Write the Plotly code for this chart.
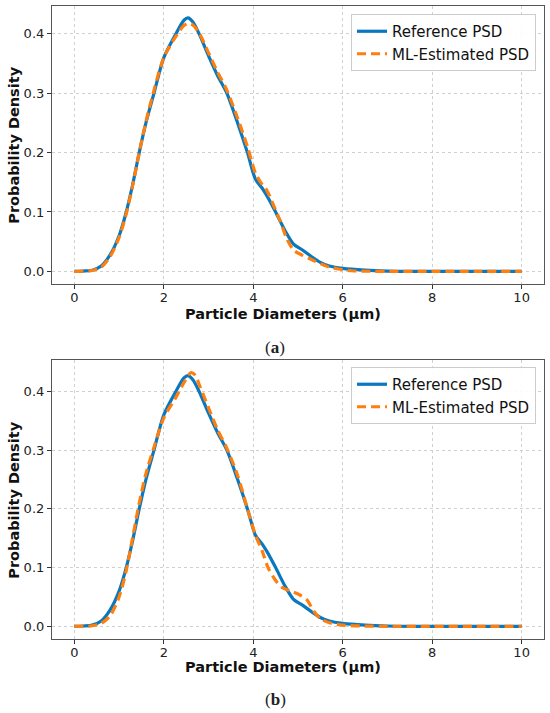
import plotly.graph_objects as go
from plotly.subplots import make_subplots

# ---- data ----
x_ref = [0, 0.2, 0.4, 0.6, 0.8, 1.0, 1.16, 1.3, 1.45, 1.6, 1.78, 2.0, 2.27, 2.45, 2.54, 2.65,
         2.79, 3.0, 3.2, 3.41, 3.65, 3.87, 4.05, 4.2, 4.3, 4.5, 4.7, 4.9, 5.1, 5.3,
         5.5, 5.7, 6.0, 6.5, 7.0, 7.5, 8.0, 9.0, 10.0]
ref_psd = [0, 0.0005, 0.002, 0.009, 0.028, 0.06, 0.1, 0.145, 0.2, 0.25, 0.3, 0.36, 0.4, 0.423,
           0.427, 0.42, 0.4, 0.363, 0.33, 0.3, 0.25, 0.2, 0.155, 0.14, 0.128, 0.1, 0.07,
           0.046, 0.036, 0.025, 0.015, 0.009, 0.005, 0.002, 0.0005, 0, 0, 0, 0]

x_ml_a = [0, 0.2, 0.4, 0.6, 0.8, 1.0, 1.16, 1.3, 1.45, 1.6, 1.78, 2.0, 2.27, 2.45, 2.55, 2.65,
          2.8, 3.0, 3.2, 3.41, 3.65, 3.87, 4.05, 4.2, 4.3, 4.45, 4.6, 4.75, 4.9, 5.1, 5.3,
          5.5, 5.7, 5.9, 6.2, 6.6, 7.0, 8.0, 9.0, 10.0]
ml_psd_a = [0, 0.0003, 0.0015, 0.007, 0.025, 0.057, 0.097, 0.143, 0.2, 0.252, 0.305, 0.36,
            0.396, 0.414, 0.418, 0.415, 0.4, 0.368, 0.336, 0.305, 0.258, 0.21, 0.165, 0.146,
            0.137, 0.112, 0.085, 0.055, 0.036, 0.027, 0.02, 0.013, 0.007, 0.004, 0.001,
            0.0002, 0, 0, 0, 0]

x_ml_b = [0, 0.2, 0.4, 0.6, 0.8, 1.0, 1.16, 1.3, 1.45, 1.6, 1.78, 2.0, 2.27, 2.45, 2.6, 2.7,
          2.8, 3.0, 3.2, 3.41, 3.65, 3.87, 4.05, 4.2, 4.33, 4.5, 4.65, 4.8, 5.0, 5.2, 5.35,
          5.5, 5.7, 6.0, 6.5, 7.0, 8.0, 9.0, 10.0]
ml_psd_b = [0, 0.0002, 0.001, 0.005, 0.018, 0.05, 0.095, 0.15, 0.21, 0.26, 0.305, 0.355,
            0.39, 0.415, 0.432, 0.428, 0.41, 0.372, 0.335, 0.303, 0.257, 0.2, 0.155, 0.128,
            0.1, 0.078, 0.066, 0.061, 0.055, 0.045, 0.026, 0.013, 0.006, 0.002, 0.0004, 0,
            0, 0, 0]

x_ticks = [0, 2, 4, 6, 8, 10]
y_ticks = [0.0, 0.1, 0.2, 0.3, 0.4]

BLUE = "#0a78be"
ORANGE = "#ff7f0e"
W, H = 550, 713


def px(p):
    return p / W


def py(p):
    return 1 - p / H


fig = make_subplots(rows=2, cols=1)

panels = [
    (1, x_ml_a, ml_psd_a, "legend"),
    (2, x_ml_b, ml_psd_b, "legend2"),
]
for row, xm, ym, leg in panels:
    fig.add_trace(go.Scatter(x=x_ref, y=ref_psd, mode="lines", name="Reference PSD",
                             line=dict(color=BLUE, width=3.2, shape="spline", smoothing=0.8),
                             legend=leg), row=row, col=1)
    fig.add_trace(go.Scatter(x=xm, y=ym, mode="lines", name="ML-Estimated PSD",
                             line=dict(color=ORANGE, width=3.2, dash="9px,5px",
                                       shape="spline", smoothing=0.8),
                             legend=leg), row=row, col=1)

axis_common = dict(showline=True, linecolor="#555555", linewidth=1.2, mirror=True,
                   showgrid=True, gridcolor="#d0d0d0", griddash="dot", gridwidth=1,
                   ticks="outside", ticklen=4, tickcolor="#333333", zeroline=False,
                   tickfont=dict(family="DejaVu Sans", size=13, color="#222222"))
xaxis_extra = dict(ticklabelstandoff=-3)
title_font = dict(family="DejaVu Sans", size=14.5, color="#111111", weight="bold")
legend_common = dict(xanchor="right", yanchor="top",
                     bgcolor="rgba(255,255,255,0.9)", bordercolor="#cccccc", borderwidth=1,
                     font=dict(family="DejaVu Sans", size=15, color="#111111"),
                     itemwidth=30, tracegroupgap=0)

fig.update_layout(
    width=W, height=H, margin=dict(l=0, r=0, t=0, b=0),
    paper_bgcolor="white", plot_bgcolor="white", showlegend=True,
    xaxis=dict(domain=[px(52), px(544)], range=[-0.5, 10.5], tickvals=x_ticks,
               **axis_common, **xaxis_extra),
    yaxis=dict(domain=[py(284), py(6)], range=[-0.0213, 0.447], tickvals=y_ticks,
               tickformat=".1f", **axis_common),
    xaxis2=dict(domain=[px(52), px(544)], range=[-0.5, 10.5], tickvals=x_ticks,
                **axis_common, **xaxis_extra),
    yaxis2=dict(domain=[py(639), py(360)], range=[-0.0216, 0.4536], tickvals=y_ticks,
                tickformat=".1f", **axis_common),
    legend=dict(x=px(536), y=py(14), **legend_common),
    legend2=dict(x=px(536), y=py(367), **legend_common),
)

# axis titles
for yc in [314, 667]:
    fig.add_annotation(text="Particle Diameters (µm)", x=px(283), y=py(yc),
                       xref="paper", yref="paper", showarrow=False,
                       xanchor="center", yanchor="middle", font=title_font)
for yc in [145, 500]:
    fig.add_annotation(text="Probability Density", x=px(13.7), y=py(yc),
                       xref="paper", yref="paper", showarrow=False, textangle=-90,
                       xanchor="center", yanchor="middle", font=title_font)

# panel captions
for txt, ypix in [("(<b>a</b>)", 347), ("(<b>b</b>)", 699)]:
    fig.add_annotation(text=txt, x=px(275), y=py(ypix), xref="paper", yref="paper",
                       showarrow=False, xanchor="center", yanchor="middle",
                       font=dict(family="Liberation Serif", size=17, color="#222222"))

fig.write_html("out.html", config={"displayModeBar": False},
               post_script="document.body.style.margin='0px';")
